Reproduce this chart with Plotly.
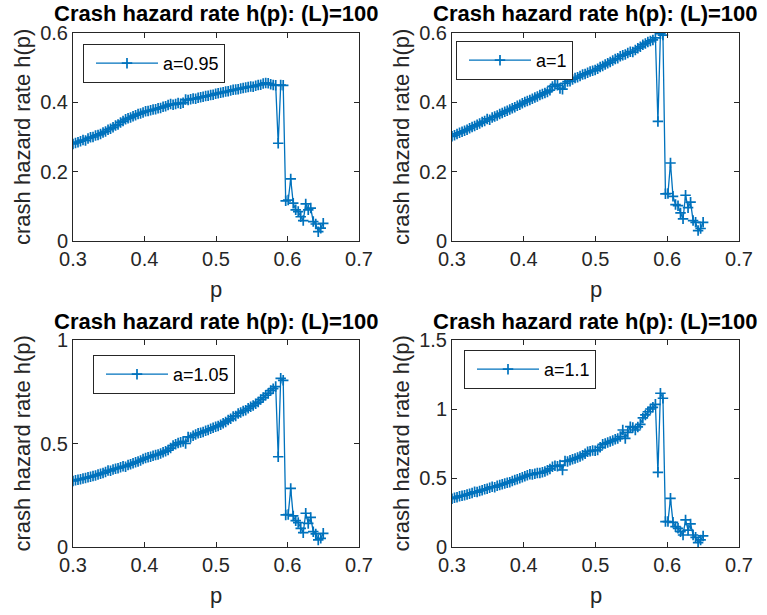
import plotly.graph_objects as go

# price grid p (x-axis), shared by all four runs
P = [
    0.3000, 0.3035, 0.3070, 0.3105, 0.3140, 0.3175, 0.3210, 0.3245, 0.3280, 0.3315,
    0.3350, 0.3385, 0.3420, 0.3455, 0.3490, 0.3525, 0.3560, 0.3595, 0.3630, 0.3665,
    0.3700, 0.3735, 0.3770, 0.3805, 0.3840, 0.3875, 0.3910, 0.3945, 0.3980, 0.4015,
    0.4050, 0.4085, 0.4120, 0.4155, 0.4190, 0.4225, 0.4260, 0.4295, 0.4330, 0.4365,
    0.4400, 0.4435, 0.4470, 0.4505, 0.4540, 0.4575, 0.4610, 0.4645, 0.4680, 0.4715,
    0.4750, 0.4785, 0.4820, 0.4855, 0.4890, 0.4925, 0.4960, 0.4995, 0.5030, 0.5065,
    0.5100, 0.5135, 0.5170, 0.5205, 0.5240, 0.5275, 0.5310, 0.5345, 0.5380, 0.5415,
    0.5450, 0.5485, 0.5520, 0.5555, 0.5590, 0.5625, 0.5660, 0.5695, 0.5730, 0.5765,
    0.5800, 0.5835, 0.5870, 0.5905, 0.5940, 0.5975, 0.6010, 0.6045, 0.6080, 0.6115,
    0.6150, 0.6185, 0.6220, 0.6255, 0.6290, 0.6325, 0.6360, 0.6395, 0.6430, 0.6465,
    0.6500,
]

# crash hazard rate h(p) for a = 0.95
H_A095 = [
    0.280, 0.283, 0.285, 0.288, 0.291, 0.290, 0.296, 0.299, 0.300, 0.304,
    0.306, 0.309, 0.313, 0.316, 0.321, 0.324, 0.328, 0.333, 0.336, 0.342,
    0.346, 0.351, 0.354, 0.356, 0.360, 0.363, 0.366, 0.368, 0.371, 0.374,
    0.375, 0.377, 0.379, 0.380, 0.383, 0.384, 0.387, 0.389, 0.392, 0.395,
    0.393, 0.395, 0.398, 0.396, 0.399, 0.408, 0.407, 0.409, 0.411, 0.410,
    0.413, 0.415, 0.416, 0.418, 0.419, 0.421, 0.422, 0.425, 0.426, 0.428,
    0.429, 0.431, 0.432, 0.434, 0.436, 0.437, 0.438, 0.440, 0.441, 0.443,
    0.444, 0.446, 0.445, 0.448, 0.450, 0.451, 0.454, 0.456, 0.455, 0.452,
    0.450, 0.449, 0.282, 0.450, 0.449, 0.116, 0.118, 0.179, 0.109, 0.090,
    0.085, 0.070, 0.059, 0.107, 0.090, 0.095, 0.056, 0.049, 0.027, 0.037,
    0.051,
]

# crash hazard rate h(p) for a = 1
H_A100 = [
    0.302, 0.305, 0.309, 0.312, 0.315, 0.318, 0.321, 0.325, 0.329, 0.332,
    0.335, 0.339, 0.343, 0.346, 0.352, 0.350, 0.356, 0.359, 0.362, 0.366,
    0.369, 0.373, 0.376, 0.379, 0.383, 0.386, 0.390, 0.393, 0.397, 0.401,
    0.404, 0.407, 0.410, 0.414, 0.417, 0.421, 0.424, 0.427, 0.430, 0.435,
    0.446, 0.452, 0.449, 0.440, 0.438, 0.455, 0.460, 0.461, 0.466, 0.470,
    0.472, 0.476, 0.480, 0.482, 0.485, 0.489, 0.491, 0.493, 0.497, 0.502,
    0.505, 0.509, 0.513, 0.516, 0.521, 0.525, 0.527, 0.533, 0.536, 0.538,
    0.542, 0.546, 0.545, 0.551, 0.556, 0.560, 0.566, 0.570, 0.574, 0.577,
    0.580, 0.586, 0.345, 0.598, 0.594, 0.136, 0.137, 0.225, 0.129, 0.105,
    0.102, 0.081, 0.064, 0.132, 0.096, 0.112, 0.059, 0.054, 0.030, 0.036,
    0.054,
]

# crash hazard rate h(p) for a = 1.05
H_A105 = [
    0.319, 0.322, 0.325, 0.327, 0.331, 0.333, 0.337, 0.339, 0.343, 0.346,
    0.350, 0.354, 0.357, 0.362, 0.370, 0.368, 0.375, 0.378, 0.381, 0.385,
    0.390, 0.388, 0.396, 0.400, 0.404, 0.410, 0.413, 0.418, 0.425, 0.430,
    0.433, 0.436, 0.441, 0.445, 0.447, 0.452, 0.458, 0.463, 0.468, 0.478,
    0.490, 0.496, 0.503, 0.506, 0.510, 0.500, 0.532, 0.529, 0.538, 0.543,
    0.549, 0.552, 0.556, 0.562, 0.565, 0.571, 0.576, 0.581, 0.585, 0.591,
    0.598, 0.604, 0.613, 0.619, 0.630, 0.633, 0.645, 0.650, 0.657, 0.661,
    0.670, 0.678, 0.684, 0.692, 0.700, 0.712, 0.722, 0.733, 0.742, 0.756,
    0.765, 0.775, 0.436, 0.815, 0.805, 0.155, 0.157, 0.283, 0.150, 0.127,
    0.118, 0.090, 0.069, 0.163, 0.114, 0.143, 0.074, 0.063, 0.034, 0.042,
    0.066,
]

# crash hazard rate h(p) for a = 1.1
H_A110 = [
    0.350, 0.356, 0.361, 0.368, 0.371, 0.375, 0.381, 0.386, 0.392, 0.400,
    0.398, 0.406, 0.412, 0.418, 0.422, 0.430, 0.436, 0.433, 0.443, 0.449,
    0.454, 0.460, 0.466, 0.470, 0.479, 0.486, 0.491, 0.498, 0.505, 0.512,
    0.520, 0.527, 0.525, 0.531, 0.537, 0.536, 0.541, 0.548, 0.556, 0.566,
    0.582, 0.588, 0.585, 0.594, 0.558, 0.623, 0.620, 0.629, 0.635, 0.642,
    0.648, 0.655, 0.664, 0.675, 0.691, 0.694, 0.700, 0.698, 0.703, 0.722,
    0.744, 0.750, 0.757, 0.765, 0.771, 0.780, 0.786, 0.800, 0.848, 0.787,
    0.830, 0.872, 0.866, 0.848, 0.870, 0.889, 0.935, 0.957, 0.980, 1.000,
    1.012, 1.034, 0.541, 1.114, 1.078, 0.184, 0.184, 0.353, 0.179, 0.147,
    0.135, 0.111, 0.087, 0.196, 0.123, 0.167, 0.087, 0.070, 0.031, 0.051,
    0.080,
]

SERIES_NAMES = ["a=0.95", "a=1", "a=1.05", "a=1.1"]
SERIES_VALUES = [H_A095, H_A100, H_A105, H_A110]

X_TICKS = [0.3, 0.4, 0.5, 0.6, 0.7]
X_TICK_TEXT = ["0.3", "0.4", "0.5", "0.6", "0.7"]
Y_RANGES = [[0, 0.6], [0, 0.6], [0, 1], [0, 1.5]]
Y_TICKS = [[0, 0.2, 0.4, 0.6], [0, 0.2, 0.4, 0.6], [0, 0.5, 1], [0, 0.5, 1, 1.5]]
Y_TICK_TEXT = [["0", "0.2", "0.4", "0.6"], ["0", "0.2", "0.4", "0.6"],
               ["0", "0.5", "1"], ["0", "0.5", "1", "1.5"]]

TITLE = "Crash hazard rate h(p): (L)=100"
X_LABEL = "p"
Y_LABEL = "crash hazard rate h(p)"

W, H = 767, 615
LINE_BLUE = "#0072BD"
AX_GRAY = "#262626"
FONT = "Liberation Sans"

# plot-area boxes in pixels: (left, right, top, bottom)
BOXES = [(73, 359, 33, 241), (452, 739, 33, 241),
         (73, 359, 340, 547), (452, 739, 340, 547)]
# legend top-left corners in pixels
LEGEND_POS = [(83, 44), (456, 41), (93, 355), (464, 350)]


def px_x(v):
    return v / W


def px_y(v):
    return 1 - v / H


fig = go.Figure()
layout = dict(
    width=W, height=H,
    margin=dict(l=0, r=0, t=0, b=0, autoexpand=False),
    paper_bgcolor="white", plot_bgcolor="white",
    showlegend=True,
    font=dict(family=FONT, color=AX_GRAY),
)
annotations = []

for i, (name, vals) in enumerate(zip(SERIES_NAMES, SERIES_VALUES)):
    n = i + 1
    sfx = "" if n == 1 else str(n)
    leg = "legend" if n == 1 else f"legend{n}"
    fig.add_trace(go.Scatter(
        x=P, y=vals, mode="lines+markers", name=name,
        xaxis=f"x{sfx}", yaxis=f"y{sfx}", legend=leg,
        line=dict(color=LINE_BLUE, width=1.3),
        marker=dict(symbol="cross-thin", size=7.5,
                    line=dict(color=LINE_BLUE, width=1.7)),
    ))

    left, right, top, bottom = BOXES[i]
    axis_common = dict(
        showline=True, linecolor=AX_GRAY, linewidth=1, mirror="ticks",
        ticks="inside", ticklen=5, tickcolor=AX_GRAY, tickwidth=1,
        showgrid=False, zeroline=False, automargin=False,
        tickfont=dict(family=FONT, size=20, color=AX_GRAY),
    )
    layout[f"xaxis{sfx}"] = dict(
        axis_common, domain=[px_x(left), px_x(right)], anchor=f"y{sfx}",
        range=[0.3, 0.7], tickvals=X_TICKS, ticktext=X_TICK_TEXT,
    )
    layout[f"yaxis{sfx}"] = dict(
        axis_common, domain=[px_y(bottom), px_y(top)], anchor=f"x{sfx}",
        range=Y_RANGES[i], tickvals=Y_TICKS[i], ticktext=Y_TICK_TEXT[i],
    )

    lx, ly = LEGEND_POS[i]
    layout[leg] = dict(
        x=px_x(lx), y=px_y(ly), xanchor="left", yanchor="top",
        xref="paper", yref="paper",
        bgcolor="white", bordercolor=AX_GRAY, borderwidth=1,
        font=dict(family=FONT, size=18, color="black"),
        itemwidth=62, indentation=7,
    )

    cx = (left + right) / 2
    cy = (top + bottom) / 2
    annotations.append(dict(
        text=f"<b>{TITLE}</b>", x=px_x(cx), y=px_y(top - 19),
        xref="paper", yref="paper", showarrow=False,
        xanchor="center", yanchor="middle",
        font=dict(family=FONT, size=22, color="black"),
    ))
    annotations.append(dict(
        text=X_LABEL, x=px_x(cx), y=px_y(bottom + 48),
        xref="paper", yref="paper", showarrow=False,
        xanchor="center", yanchor="middle",
        font=dict(family=FONT, size=22, color=AX_GRAY),
    ))
    annotations.append(dict(
        text=Y_LABEL, x=px_x(left - 51), y=px_y(cy),
        xref="paper", yref="paper", showarrow=False, textangle=-90,
        xanchor="center", yanchor="middle",
        font=dict(family=FONT, size=22, color=AX_GRAY),
    ))

layout["annotations"] = annotations
fig.update_layout(**layout)
fig.write_html("out.html")
